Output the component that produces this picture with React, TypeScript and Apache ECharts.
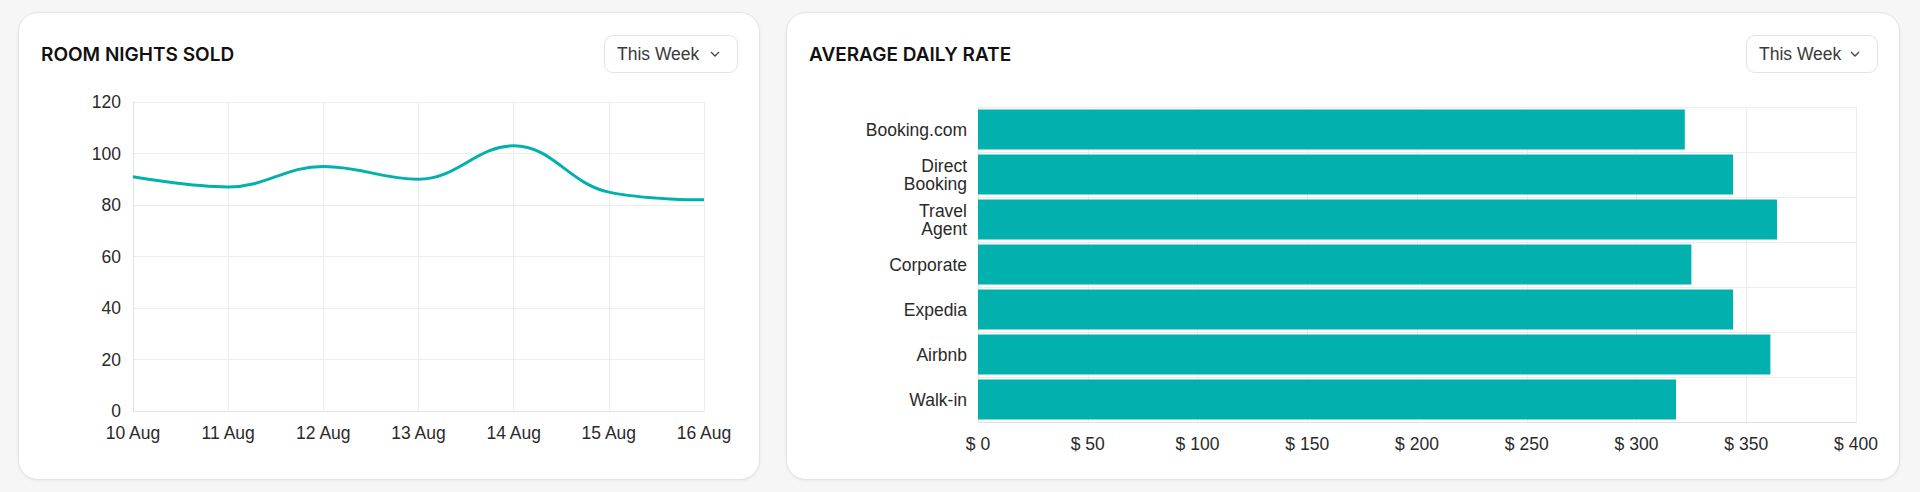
import React, { useEffect, useRef } from "react";
import * as echarts from "echarts";

const days = ["10 Aug", "11 Aug", "12 Aug", "13 Aug", "14 Aug", "15 Aug", "16 Aug"];
const roomNights = [91, 87, 95, 90, 103, 85, 82];
const roomMin = 0;
const roomMax = 120;
const roomStep = 20;

const channels = ["Booking.com", "Direct\nBooking", "Travel\nAgent", "Corporate", "Expedia", "Airbnb", "Walk-in"];
const adr = [322, 344, 364, 325, 344, 361, 318];
const adrMin = 0;
const adrMax = 400;
const adrStep = 50;

const titles = ["ROOM NIGHTS SOLD", "AVERAGE DAILY RATE"];
const periodLabel = "This Week";

const TEAL = "#02b0ad";
const GRID = "#ececec";
const AXIS = "#e2e2e2";
const LABEL = "#2a2a2a";
const FONT = "Inter, 'Noto Sans', sans-serif";
const LFONT = "'Liberation Sans', Arial, Helvetica, sans-serif";

const cards = [
  { left: 18, top: 12, width: 742, height: 468 },
  { left: 786, top: 12, width: 1114, height: 468 },
];
const dropdowns = [
  { left: 604, top: 35, width: 134, height: 38 },
  { left: 1746, top: 35, width: 132, height: 38 },
];

export default function App() {
  const ref = useRef<HTMLDivElement>(null);

  useEffect(() => {
    if (!ref.current) return;
    const chart = echarts.init(ref.current, undefined, { renderer: "svg" });

    const graphic: any[] = [];
    cards.forEach((c, i) => {
      graphic.push({
        type: "text",
        left: c.left + 23,
        top: 45,
        style: {
          text: titles[i],
          font: `600 19px ${FONT}`,
          fill: "#111111",
        },
      });
    });
    dropdowns.forEach((d) => {
      graphic.push({
        type: "text",
        left: d.left + 13,
        top: 45,
        style: {
          text: periodLabel,
          font: `400 17.5px ${LFONT}`,
          fill: "#3a3a3a",
        },
      });
      const cx = d.left + d.width - 23;
      graphic.push({
        type: "polyline",
        shape: {
          points: [
            [cx - 4, 52],
            [cx, 56],
            [cx + 4, 52],
          ],
        },
        style: { stroke: "#444", lineWidth: 1.3, fill: "none" },
      });
    });

    const axisLabel = { color: LABEL, fontSize: 17.5, fontFamily: LFONT };

    const option: any = {
      animation: false,
      backgroundColor: "transparent",
      textStyle: { fontFamily: LFONT },
      graphic,
      grid: [
        { left: 133, top: 102, width: 571, height: 309 },
        { left: 978, top: 107, width: 878, height: 315 },
      ],
      xAxis: [
        {
          gridIndex: 0,
          type: "category",
          data: days,
          boundaryGap: false,
          axisLine: { show: true, lineStyle: { color: AXIS } },
          axisTick: { show: false },
          axisLabel: { ...axisLabel, margin: 13 },
          splitLine: { show: true, lineStyle: { color: GRID } },
        },
        {
          gridIndex: 1,
          type: "value",
          min: adrMin,
          max: adrMax,
          interval: adrStep,
          axisLine: { show: true, lineStyle: { color: AXIS } },
          axisTick: { show: false },
          axisLabel: {
            ...axisLabel,
            margin: 13,
            formatter: (v: number) => "$ " + v,
          },
          splitLine: { show: true, lineStyle: { color: GRID } },
        },
      ],
      yAxis: [
        {
          gridIndex: 0,
          type: "value",
          min: roomMin,
          max: roomMax,
          interval: roomStep,
          axisLine: { show: true, lineStyle: { color: AXIS } },
          axisTick: { show: false },
          axisLabel: { ...axisLabel, margin: 12 },
          splitLine: { show: true, lineStyle: { color: GRID } },
        },
        {
          gridIndex: 1,
          type: "category",
          data: channels,
          inverse: true,
          axisLine: { show: true, lineStyle: { color: AXIS } },
          axisTick: { show: false },
          axisLabel: {
            ...axisLabel,
            lineHeight: 18,
            margin: 11,
            align: "right",
          },
          splitLine: { show: true, lineStyle: { color: GRID } },
        },
      ],
      series: [
        {
          type: "line",
          xAxisIndex: 0,
          yAxisIndex: 0,
          data: roomNights,
          smooth: 0.4,
          showSymbol: false,
          symbol: "none",
          lineStyle: { color: TEAL, width: 3 },
          itemStyle: { color: TEAL },
        },
        {
          type: "bar",
          xAxisIndex: 1,
          yAxisIndex: 1,
          data: adr,
          barCategoryGap: "11%",
          itemStyle: { color: TEAL },
        },
      ],
    };
    chart.setOption(option);
    return () => chart.dispose();
  }, []);

  return (
    <div
      style={{
        position: "absolute",
        left: 0,
        top: 0,
        width: 1920,
        height: 492,
        background: "#f6f6f6",
        overflow: "hidden",
      }}
    >
      {cards.map((c, i) => (
        <div
          key={"card" + i}
          style={{
            position: "absolute",
            left: c.left,
            top: c.top,
            width: c.width,
            height: c.height,
            boxSizing: "border-box",
            background: "#ffffff",
            border: "1px solid #e4e4e4",
            borderRadius: 20,
            boxShadow: "0 1px 3px rgba(0,0,0,0.06)",
          }}
        />
      ))}
      {dropdowns.map((d, i) => (
        <div
          key={"dd" + i}
          style={{
            position: "absolute",
            left: d.left,
            top: d.top,
            width: d.width,
            height: d.height,
            boxSizing: "border-box",
            background: "#ffffff",
            border: "1px solid #e3e3e3",
            borderRadius: 9,
          }}
        />
      ))}
      <div
        ref={ref}
        style={{ position: "absolute", left: 0, top: 0, width: 1920, height: 492 }}
      />
    </div>
  );
}
